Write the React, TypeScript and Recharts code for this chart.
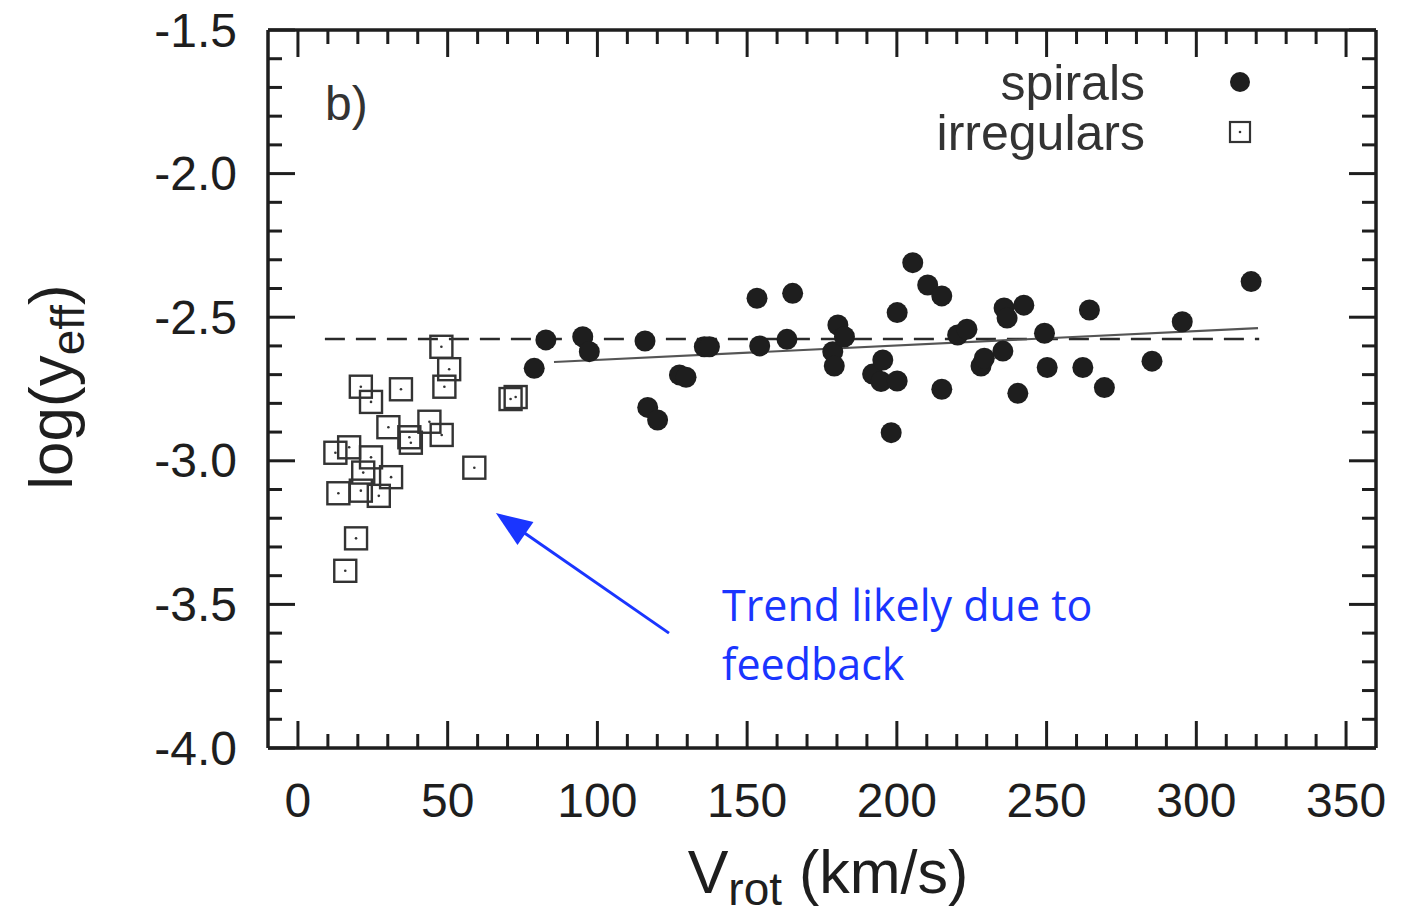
import { ReferenceLine, Scatter, ScatterChart, XAxis, YAxis } from "recharts";

// log(y_eff) vs V_rot, panel b)

type Pt = { x: number; y: number };

const spirals: Pt[] = [
  { x: 78.9, y: -2.678 }, { x: 82.8, y: -2.579 }, { x: 95.1, y: -2.568 }, { x: 97.3, y: -2.62 },
  { x: 115.9, y: -2.583 }, { x: 116.8, y: -2.814 }, { x: 120.1, y: -2.858 }, { x: 127.4, y: -2.701 },
  { x: 129.6, y: -2.709 }, { x: 135.7, y: -2.603 }, { x: 137.4, y: -2.603 }, { x: 153.3, y: -2.434 },
  { x: 154.2, y: -2.6 }, { x: 163.3, y: -2.577 }, { x: 165.2, y: -2.417 }, { x: 178.6, y: -2.62 },
  { x: 179.1, y: -2.67 }, { x: 180.3, y: -2.527 }, { x: 182.5, y: -2.568 }, { x: 191.9, y: -2.698 },
  { x: 194.7, y: -2.724 }, { x: 195.3, y: -2.649 }, { x: 198.1, y: -2.902 }, { x: 200.1, y: -2.484 },
  { x: 200.1, y: -2.722 }, { x: 205.3, y: -2.31 }, { x: 210.3, y: -2.388 }, { x: 215.0, y: -2.426 },
  { x: 215.0, y: -2.751 }, { x: 220.3, y: -2.562 }, { x: 223.4, y: -2.542 }, { x: 228.1, y: -2.67 },
  { x: 229.2, y: -2.643 }, { x: 235.4, y: -2.618 }, { x: 235.8, y: -2.468 }, { x: 236.8, y: -2.503 },
  { x: 240.4, y: -2.765 }, { x: 242.4, y: -2.458 }, { x: 249.3, y: -2.556 }, { x: 250.2, y: -2.675 },
  { x: 262.1, y: -2.675 }, { x: 264.3, y: -2.475 }, { x: 269.3, y: -2.745 }, { x: 285.2, y: -2.653 },
  { x: 295.3, y: -2.516 }, { x: 318.3, y: -2.376 },
];

const irregulars: Pt[] = [
  { x: 47.9, y: -2.603 }, { x: 50.5, y: -2.681 }, { x: 21.0, y: -2.742 }, { x: 34.4, y: -2.751 },
  { x: 48.9, y: -2.742 }, { x: 24.4, y: -2.795 }, { x: 71.0, y: -2.785 }, { x: 72.7, y: -2.778 },
  { x: 30.2, y: -2.883 }, { x: 43.9, y: -2.864 }, { x: 48.0, y: -2.91 }, { x: 37.2, y: -2.918 },
  { x: 37.7, y: -2.937 }, { x: 12.5, y: -2.972 }, { x: 17.1, y: -2.953 }, { x: 24.4, y: -2.988 },
  { x: 21.8, y: -3.041 }, { x: 31.1, y: -3.057 }, { x: 58.9, y: -3.024 }, { x: 13.5, y: -3.113 },
  { x: 21.0, y: -3.104 }, { x: 27.0, y: -3.122 }, { x: 19.4, y: -3.27 }, { x: 15.8, y: -3.383 },
];

const fitLine: Pt[] = [{ x: 85.5, y: -2.656 }, { x: 320.6, y: -2.538 }];
const meanLine: Pt[] = [{ x: 9, y: -2.576 }, { x: 321, y: -2.576 }];
const arrow: Pt[] = [{ x: 123.9, y: -3.6 }, { x: 66.1, y: -3.182 }];

const xMajor = [0, 50, 100, 150, 200, 250, 300, 350];
const yMajor = [-4.0, -3.5, -3.0, -2.5, -2.0, -1.5];
const xTicks = Array.from({ length: 36 }, (_, i) => i * 10);
const yTicks = Array.from({ length: 26 }, (_, i) => Math.round((-4 + i * 0.1) * 10) / 10);

const INK = "#1e1e1e";
const SANS = "'Liberation Sans', Arial, Helvetica, sans-serif";
const BLUE = "#1a35ff";
const MAJ = 27;
const MIN = 14;

const isMajorX = (v: number) => xMajor.includes(v);
const isMajorY = (v: number) => yMajor.some((m) => Math.abs(m - v) < 1e-6);

const tickText = { fontFamily: SANS, fontSize: 48, fill: INK };

function XTickBottom({ x, y, payload }: any) {
  const major = isMajorX(payload.value);
  return (
    <g>
      <line x1={x} x2={x} y1={y} y2={y - (major ? MAJ : MIN)} stroke={INK} strokeWidth={3} />
      {major && (
        <text x={x} y={y + 52} textAnchor="middle" dominantBaseline="central" {...tickText}>
          {payload.value}
        </text>
      )}
    </g>
  );
}

function XTickTop({ x, y, payload }: any) {
  const major = isMajorX(payload.value);
  return <line x1={x} x2={x} y1={y} y2={y + (major ? MAJ : MIN)} stroke={INK} strokeWidth={3} />;
}

function YTickLeft({ x, y, payload }: any) {
  const major = isMajorY(payload.value);
  return (
    <g>
      <line x1={x} x2={x + (major ? MAJ : MIN)} y1={y} y2={y} stroke={INK} strokeWidth={3} />
      {major && (
        <text x={x - 31} y={y} textAnchor="end" dominantBaseline="central" {...tickText}>
          {payload.value.toFixed(1)}
        </text>
      )}
    </g>
  );
}

function YTickRight({ x, y, payload }: any) {
  const major = isMajorY(payload.value);
  return <line x1={x} x2={x - (major ? MAJ : MIN)} y1={y} y2={y} stroke={INK} strokeWidth={3} />;
}

function Dot({ cx, cy }: any) {
  return <circle cx={cx} cy={cy} r={10.5} fill={INK} />;
}

function Box({ cx, cy }: any) {
  return (
    <g>
      <rect x={cx - 11} y={cy - 11} width={22} height={22} fill="none" stroke="#333" strokeWidth={2.4} />
      <circle cx={cx} cy={cy} r={1.3} fill="#333" />
    </g>
  );
}

function Arrow({ x1, y1, x2, y2 }: any) {
  const dx = x2 - x1;
  const dy = y2 - y1;
  const len = Math.hypot(dx, dy);
  const ux = dx / len;
  const uy = dy / len;
  const L = 36;
  const W = 14;
  const bx = x2 - ux * L;
  const by = y2 - uy * L;
  return (
    <g>
      <line x1={x1} y1={y1} x2={x2 - ux * L * 0.7} y2={y2 - uy * L * 0.7} stroke={BLUE} strokeWidth={3} />
      <polygon
        points={`${x2},${y2} ${bx - uy * W},${by + ux * W} ${bx + uy * W},${by - ux * W}`}
        fill={BLUE}
      />
    </g>
  );
}

export default function App() {
  const axisLine = { stroke: INK, strokeWidth: 3.5 };
  // top/right axes need a non-zero size or recharts skips drawing them
  return (
    <ScatterChart width={1400} height={902} margin={{ top: 21, right: 31, left: 0, bottom: 2 }}>
      <XAxis
        type="number"
        dataKey="x"
        domain={[-10, 360]}
        ticks={xTicks}
        interval={0}
        height={160}
        tickSize={0}
        tickMargin={0}
        tickLine={false}
        axisLine={axisLine}
        tick={XTickBottom}
      />
      <XAxis
        xAxisId="top"
        orientation="top"
        type="number"
        dataKey="x"
        domain={[-10, 360]}
        ticks={xTicks}
        interval={0}
        height={1}
        tickSize={0}
        tickMargin={0}
        tickLine={false}
        axisLine={axisLine}
        tick={XTickTop}
      />
      <YAxis
        type="number"
        dataKey="y"
        domain={[-4, -1.5]}
        ticks={yTicks}
        interval={0}
        width={260}
        tickSize={0}
        tickMargin={0}
        tickLine={false}
        axisLine={axisLine}
        tick={YTickLeft}
      />
      <YAxis
        yAxisId="right"
        orientation="right"
        type="number"
        dataKey="y"
        domain={[-4, -1.5]}
        ticks={yTicks}
        interval={0}
        width={1}
        tickSize={0}
        tickMargin={0}
        tickLine={false}
        axisLine={axisLine}
        tick={YTickRight}
      />
      <ReferenceLine
        segment={meanLine}
        stroke="#2a2a2a"
        strokeWidth={2.5}
        strokeDasharray="20 11"
      />
      <ReferenceLine segment={fitLine} stroke="#555" strokeWidth={2.2} />
      <ReferenceLine segment={arrow} shape={Arrow} />
      {/* irregulars plotted on the mirrored top/right axes (same domains) */}
      <Scatter
        data={irregulars}
        xAxisId="top"
        yAxisId="right"
        shape={Box}
        isAnimationActive={false}
      />
      <Scatter data={spirals} shape={Dot} isAnimationActive={false} />

      <text x={317} y={112} fontFamily={SANS} fontSize={48} fill="#333">b)</text>
      <g fontFamily={SANS} fontSize={50} fill="#333" textAnchor="end">
        <text x={1137} y={92}>spirals</text>
        <text x={1137} y={142}>irregulars</text>
      </g>
      <circle cx={1232} cy={74} r={10} fill={INK} />
      <rect x={1222} y={114} width={20} height={20} fill="none" stroke="#333" strokeWidth={2.2} />
      <circle cx={1232} cy={124} r={1.3} fill="#333" />

      <g fontFamily="'Open Sans', Lato, sans-serif" fontSize={43} fill={BLUE}>
        <text x={714} y={613}>Trend likely due to</text>
        <text x={714} y={672}>feedback</text>
      </g>

      <text x={820} y={885} textAnchor="middle" fontFamily={SANS} fontSize={61} fill={INK}>
        V<tspan fontSize={46} dy={12}>rot</tspan>
        <tspan dy={-12}> (km/s)</tspan>
      </text>
      <text
        transform="translate(64,379) rotate(-90)"
        textAnchor="middle"
        fontFamily={SANS}
        fontSize={62}
        fill={INK}
      >
        log(y<tspan fontSize={46} dy={12}>eff</tspan>
        <tspan dy={-12}>)</tspan>
      </text>
    </ScatterChart>
  );
}
